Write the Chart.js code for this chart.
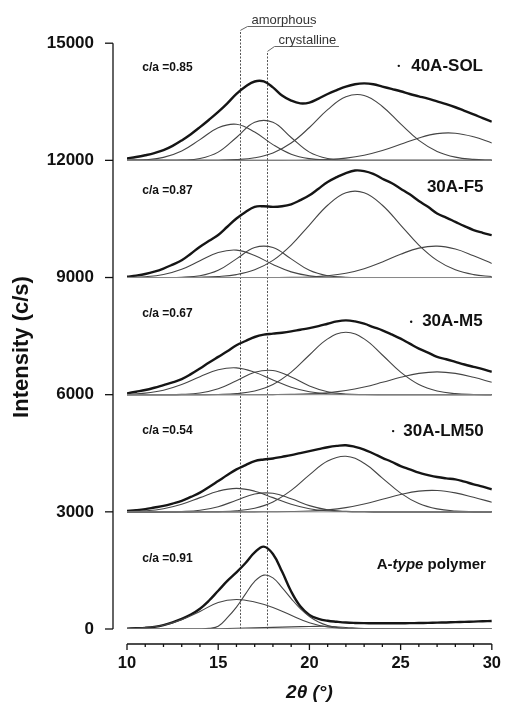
<!DOCTYPE html>
<html><head><meta charset="utf-8">
<script src="https://cdn.jsdelivr.net/npm/chart.js@4/dist/chart.umd.min.js"></script>
<style>html,body{margin:0;padding:0;background:#fff}canvas{display:block}</style>
</head><body>
<canvas id="c" width="526" height="707" style="width:526px;height:707px"></canvas>
<script>
// ---------- DATA ----------
const twoThetaFine = [10,10.5,11,11.5,12,12.5,13,13.5,14,14.5,15,15.5,16,16.5,17,17.5,18,18.5,19,19.5,20,20.5,21,21.5,22,22.5,23,23.5,24,24.5,25,25.5,26,26.5,27,27.5,28,28.5,29,29.5,30];
const twoThetaCoarse = [10,11,12,13,14,15,16,17,18,19,20,21,22,23,24,25,26,27,28,29,30];
const sampleNames = ['40A-SOL','30A-F5','30A-M5','30A-LM50','A-type polymer'];
const crystallinityLabels = ['c/a =0.85','c/a =0.87','c/a =0.67','c/a =0.54','c/a =0.91'];
const stackOffsets = [12000,9000,6000,3000,0];
const yTickValues = [0,3000,6000,9000,12000,15000];
const xTickValues = [10,15,20,25,30];
const markerPositions = [16.2,17.7];
const markerLabels = ['amorphous','crystalline'];

// fitted profiles (intensity above each curve's own baseline), on twoThetaFine
const fitSOL  = [50,85,130,185,260,370,510,670,850,1040,1240,1460,1700,1890,2020,2020,1870,1660,1530,1460,1480,1580,1700,1800,1890,1950,1970,1950,1890,1830,1770,1700,1640,1580,1510,1440,1360,1270,1180,1080,990];
const fitF5   = [20,50,90,150,230,330,440,610,790,940,1090,1300,1510,1680,1810,1825,1810,1825,1875,1980,2105,2275,2445,2570,2675,2740,2725,2655,2530,2420,2275,2130,1960,1810,1640,1535,1425,1315,1215,1145,1085];
const fitM5   = [34,76,119,178,246,314,399,526,671,823,968,1112,1265,1375,1477,1536,1562,1587,1621,1664,1706,1757,1817,1876,1902,1876,1817,1732,1647,1545,1435,1307,1180,1078,968,908,840,772,713,654,586];
const fitLM50 = [25,42,68,110,153,212,280,382,492,637,789,942,1087,1197,1299,1341,1367,1409,1452,1503,1553,1604,1655,1689,1706,1664,1596,1494,1384,1282,1171,1087,1002,942,891,857,832,772,705,645,577];
const fitAType= [10,18,30,55,100,170,260,370,520,730,980,1230,1450,1690,1960,2110,1920,1470,960,580,360,260,210,185,165,155,150,148,146,146,147,150,153,157,162,168,175,182,190,198,205];

// deconvoluted peaks, on twoThetaCoarse
const peaksSOL = [
  [3,17,76,240,531,833,924,725,403,158,44,9,1,0,0,0,0,0,0,0,0],
  [0,0,0,6,46,211,586,975,975,586,211,46,6,0,0,0,0,0,0,0,0],
  [0,0,0,0,1,4,19,66,190,443,841,1298,1628,1663,1380,932,512,229,83,25,6],
  [0,0,0,0,0,0,0,0,0,2,7,22,57,130,250,410,574,685,696,603,445]
];
const peaksF5 = [
  [4,20,76,210,428,639,701,564,334,145,46,11,2,0,0,0,0,0,0,0,0],
  [0,0,1,7,44,184,477,768,768,477,184,44,7,1,0,0,0,0,0,0,0],
  [0,0,0,2,7,25,75,197,438,831,1343,1850,2171,2171,1850,1343,831,438,197,75,25],
  [0,0,0,0,0,0,0,0,1,4,15,44,109,227,399,596,753,804,728,557,361]
];
const peaksM5 = [
  [10,39,114,259,460,637,687,576,377,192,76,23,6,1,0,0,0,0,0,0,0],
  [0,0,1,8,44,152,358,572,619,453,224,75,17,3,0,0,0,0,0,0,0],
  [0,0,0,0,1,6,27,94,261,577,1016,1429,1600,1429,1016,577,261,94,27,6,1],
  [0,0,0,0,0,0,0,0,2,7,20,50,105,195,316,445,546,585,546,445,316]
];
const peaksLM50 = [
  [7,26,81,195,364,529,600,529,364,195,81,26,7,1,0,0,0,0,0,0,0],
  [0,0,1,8,39,131,297,457,475,334,159,51,11,2,0,0,0,0,0,0,0],
  [0,0,0,0,1,6,27,94,254,549,946,1300,1423,1243,865,480,212,75,21,5,1],
  [0,0,0,0,0,0,0,0,2,7,20,50,107,200,321,444,530,546,485,372,246]
];
const aTypeAmorphousPeak = [10,35,95,240,450,680,755,690,550,350,160,50,10,2,0,0,0,0,0,0,0];
const aTypeMinorPeak     = [0,0,0,0,0,8,18,30,42,55,65,70,40,12,3,0,0,0,0,0,0];
// on twoThetaFine
const aTypeCrystallinePeak = [0,0,0,0,0,0,0,0,0,15,70,290,560,900,1220,1380,1310,1060,780,520,320,180,90,40,15,5,0,0,0,0,0,0,0,0,0,0,0,0,0,0,0];

// ---------- BUILD ----------
const FONT = "'Liberation Sans', Arial, Helvetica, sans-serif";
function pts(xs, ys, off){ return xs.map((x,i)=>({x:x, y:ys[i]+off})); }
const fits = [fitSOL, fitF5, fitM5, fitLM50, fitAType];
const peakSets = [
  peaksSOL.map(p=>({xs:twoThetaCoarse, ys:p})),
  peaksF5.map(p=>({xs:twoThetaCoarse, ys:p})),
  peaksM5.map(p=>({xs:twoThetaCoarse, ys:p})),
  peaksLM50.map(p=>({xs:twoThetaCoarse, ys:p})),
  [{xs:twoThetaCoarse, ys:aTypeAmorphousPeak},{xs:twoThetaFine, ys:aTypeCrystallinePeak},{xs:twoThetaCoarse, ys:aTypeMinorPeak}]
];
const datasets = [];
stackOffsets.forEach((off, s)=>{
  datasets.push({label: sampleNames[s]+' baseline', data:[{x:twoThetaCoarse[0],y:off},{x:twoThetaCoarse[twoThetaCoarse.length-1],y:off}],
    borderColor:'#8a8a8a', borderWidth:1, pointRadius:0, tension:0});
  peakSets[s].forEach((p,k)=>{
    datasets.push({label: sampleNames[s]+' peak '+(k+1), data: pts(p.xs, p.ys, off),
      borderColor:'#454545', borderWidth:1.1, pointRadius:0, tension:0.4});
  });
  datasets.push({label: sampleNames[s], data: pts(twoThetaFine, fits[s], off),
    borderColor:'#151515', borderWidth:2.4, pointRadius:0, tension:0.4});
});

const decor = {
  id:'decor',
  beforeDatasetsDraw(chart){
    const {ctx, scales:{x, y}} = chart;
    ctx.save();
    const tops = [15330, 14790];
    const headY = [15430, 14935];
    const ends = [20.18, 21.62];
    markerPositions.forEach((m,i)=>{
      const px = Math.round(x.getPixelForValue(m))+0.5;
      ctx.strokeStyle = '#555'; ctx.lineWidth = 1;
      ctx.setLineDash([2,1.5]);
      ctx.beginPath(); ctx.moveTo(px, y.getPixelForValue(0)); ctx.lineTo(px, y.getPixelForValue(tops[i])); ctx.stroke();
      ctx.setLineDash([]);
      ctx.strokeStyle = '#666';
      const hy = Math.round(y.getPixelForValue(headY[i]))+0.5;
      ctx.beginPath(); ctx.moveTo(px, y.getPixelForValue(tops[i])); ctx.lineTo(px+7, hy); ctx.lineTo(x.getPixelForValue(ends[i]), hy); ctx.stroke();
      ctx.fillStyle = '#333'; ctx.font = '13px '+FONT; ctx.textAlign='left'; ctx.textBaseline='alphabetic';
      ctx.fillText(markerLabels[i], px+11, hy-3);
    });
    ctx.restore();
  },
  afterDraw(chart){
    const {ctx, chartArea, scales:{x, y}} = chart;
    ctx.save();
    ctx.strokeStyle = '#111'; ctx.lineWidth = 1.3;
    const ax = chartArea.left - 14;
    ctx.beginPath(); ctx.moveTo(ax, y.getPixelForValue(15000)); ctx.lineTo(ax, y.getPixelForValue(0)); ctx.stroke();
    y.ticks.forEach(t=>{ const py = y.getPixelForValue(t.value); ctx.beginPath(); ctx.moveTo(ax-8, py); ctx.lineTo(ax, py); ctx.stroke(); });
    const ay = chartArea.bottom + 15;
    ctx.beginPath(); ctx.moveTo(x.getPixelForValue(10), ay); ctx.lineTo(x.getPixelForValue(30), ay); ctx.stroke();
    for (let v = 10; v <= 30; v++) {
      const px = x.getPixelForValue(v); const L = (v % 5 === 0) ? 6 : 3;
      ctx.beginPath(); ctx.moveTo(px, ay); ctx.lineTo(px, ay+L); ctx.stroke();
    }
    ctx.fillStyle = '#111';
    ctx.translate(22, 347); ctx.rotate(-Math.PI/2);
    ctx.font = 'bold 22px '+FONT; ctx.textAlign='center'; ctx.textBaseline='middle';
    ctx.fillText('Intensity (c/s)', 0, 0);
    ctx.restore();

    ctx.save();
    ctx.fillStyle = '#111'; ctx.textBaseline = 'middle'; ctx.textAlign = 'left';
    const ratioY = [14380, 11222, 8080, 5085, 1800];
    crystallinityLabels.forEach((t,i)=>{
      ctx.font = 'bold 12px '+FONT;
      ctx.fillText(t, x.getPixelForValue(10.84), y.getPixelForValue(ratioY[i]));
    });
    const namePos = [{x:25.58,y:14420,d:24.9},{x:26.44,y:11306,d:null},{x:26.18,y:7869,d:25.58},{x:25.15,y:5067,d:24.59},{x:23.69,y:1630,d:null}];
    sampleNames.forEach((n,i)=>{
      const p = namePos[i];
      const px = x.getPixelForValue(p.x), py = y.getPixelForValue(p.y);
      if (p.d !== null) { ctx.beginPath(); ctx.arc(x.getPixelForValue(p.d), py, 1.2, 0, Math.PI*2); ctx.fill(); }
      if (n === 'A-type polymer') {
        ctx.font = 'bold 15px '+FONT; ctx.fillText('A-', px, py);
        let w = ctx.measureText('A-').width;
        ctx.font = 'italic bold 15px '+FONT; ctx.fillText('type', px+w, py);
        w += ctx.measureText('type').width;
        ctx.font = 'bold 15px '+FONT; ctx.fillText(' polymer', px+w, py);
      } else {
        ctx.font = 'bold 17px '+FONT; ctx.fillText(n, px, py);
      }
    });
    ctx.restore();
  }
};

new Chart(document.getElementById('c'), {
  type: 'line',
  data: { datasets },
  options: {
    responsive: false, animation: false, devicePixelRatio: 1,
    layout: { padding: { left: 0, right: 10, top: 40, bottom: 0 } },
    plugins: { legend: { display: false }, tooltip: { enabled: false } },
    scales: {
      x: { type: 'linear', min: 10, max: 30,
        afterFit: s => { s.height = 78; },
        afterBuildTicks: s => { s.ticks = xTickValues.map(v=>({value:v})); },
        grid: { display: false, drawTicks: false }, border: { display: false },
        ticks: { padding: 25, color: '#111', font: { family: FONT, size: 16.5, weight: 'bold' }, maxRotation: 0, callback: v => String(v) },
        title: { display: true, text: '2θ (°)', color: '#111', padding: { top: 0, bottom: 3 }, font: { family: FONT, size: 19, weight: 'bold', style: 'italic' } }
      },
      y: { min: 0, max: 15000,
        afterFit: s => { s.width = 127; },
        afterBuildTicks: s => { s.ticks = yTickValues.map(v=>({value:v})); },
        grid: { display: false, drawTicks: false }, border: { display: false },
        ticks: { padding: 33, color: '#111', font: { family: FONT, size: 17, weight: 'bold' }, callback: v => String(v) }
      }
    }
  },
  plugins: [decor]
});
</script>
</body></html>
